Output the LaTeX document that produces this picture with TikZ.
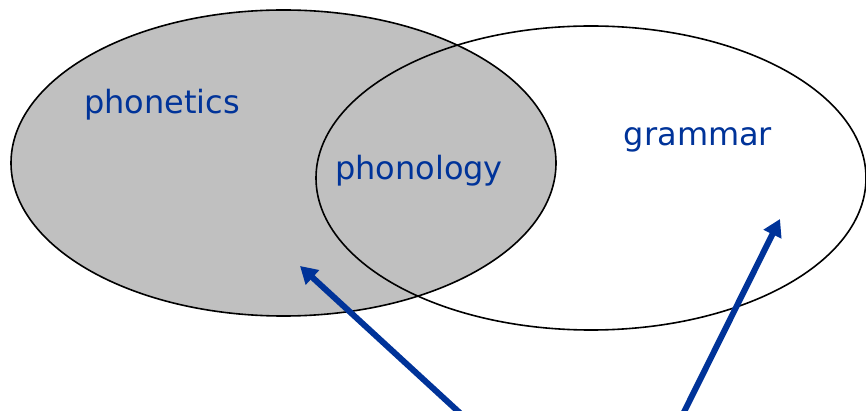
\documentclass[tikz,border=0pt]{standalone}
\usepackage{fontspec}
\setmainfont{DejaVu Sans}
\usetikzlibrary{arrows.meta}
\definecolor{lblue}{RGB}{0,51,153}
\definecolor{lgray}{RGB}{192,192,192}
\tikzset{
  set/.style={draw=black, line width=1.6pt},
  lbl/.style={text=lblue, font=\fontsize{32}{38}\selectfont, inner sep=0pt},
  pointer/.style={draw=lblue, line width=6pt, -{Triangle[length=17pt,width=19pt]}}
}
\begin{document}
\begin{tikzpicture}[x=1pt,y=-1pt]
\useasboundingbox (0,0) rectangle (866,411);
\fill[lgray] (283.5,163) ellipse [x radius=272.5, y radius=153];
\draw[set] (283.5,163) ellipse [x radius=272.5, y radius=153];
\draw[set] (591,178) ellipse [x radius=275, y radius=152];
\node[lbl] (phonetics) at (162,105) {phonetics};
\node[lbl] (phonology) at (419,171) {phonology};
\node[lbl] (grammar) at (698,140) {grammar};
\coordinate (a1s) at (461,414);
\coordinate (a1e) at (300,266);
\coordinate (a2s) at (683,414);
\coordinate (a2e) at (780,219);
\draw[pointer] (a1s) -- (a1e);
\draw[pointer] (a2s) -- (a2e);
\end{tikzpicture}
\end{document}
